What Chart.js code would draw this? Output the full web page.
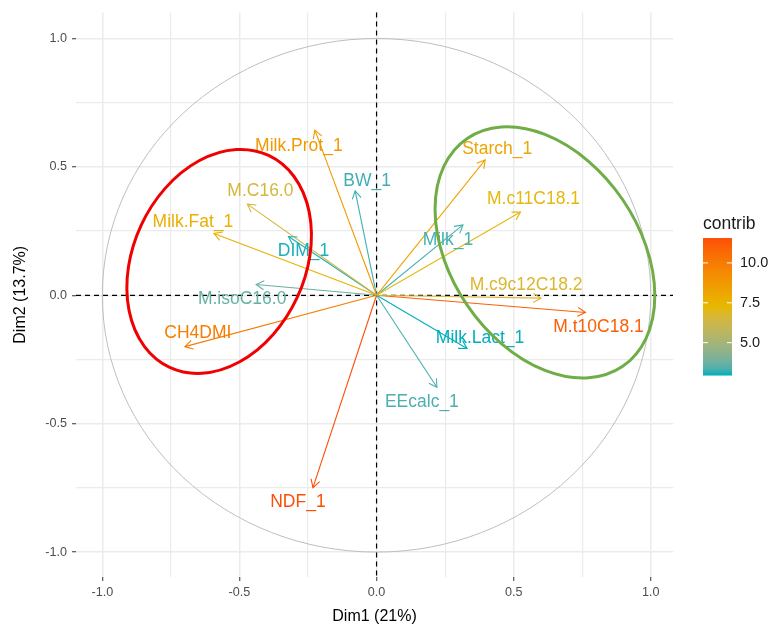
<!DOCTYPE html>
<html>
<head>
<meta charset="utf-8">
<script src="https://cdn.jsdelivr.net/npm/chart.js@4.4.1/dist/chart.umd.min.js"></script>
<style>
  html, body { margin: 0; padding: 0; background: #fff; }
  canvas { display: block; }
</style>
</head>
<body>
<canvas id="pcaChart" width="771" height="626"></canvas>
<script>
// variable coordinates on the first two PCA dimensions
const varNames = ['Milk.Prot_1', 'BW_1', 'M.C16.0', 'Milk.Fat_1', 'DIM_1', 'M.isoC16.0', 'CH4DMI', 'NDF_1',
  'EEcalc_1', 'Starch_1', 'M.c11C18.1', 'Milk_1', 'M.c9c12C18.2', 'M.t10C18.1', 'Milk.Lact_1'];
const dim1 = [-0.225, -0.078, -0.471, -0.593, -0.321, -0.439, -0.699, -0.232,
  0.220, 0.396, 0.525, 0.315, 0.600, 0.762, 0.330];
const dim2 = [0.643, 0.407, 0.355, 0.241, 0.229, 0.042, -0.200, -0.749,
  -0.358, 0.527, 0.324, 0.274, -0.011, -0.067, -0.207];
const contrib = [8.72, 3.23, 6.54, 7.70, 3.00, 3.66, 9.94, 11.56,
  3.32, 8.17, 7.16, 3.28, 6.77, 11.0, 2.94];

const axisTicks = [-1.0, -0.5, 0.0, 0.5, 1.0];
const legendTicks = [5.0, 7.5, 10.0];

// label nudges (px) from the arrow tip
const labelNudge = {
  'Milk.Prot_1': [-16, 16], 'BW_1': [12, -10], 'M.C16.0': [13, -13], 'Milk.Fat_1': [-21, -11],
  'DIM_1': [15, 15], 'M.isoC16.0': [-14, 15], 'CH4DMI': [13, -13], 'NDF_1': [-15, 15],
  'EEcalc_1': [-15, 15], 'Starch_1': [12, -11], 'M.c11C18.1': [13, -13], 'Milk_1': [-15, 15],
  'M.c9c12C18.2': [-15, -13], 'M.t10C18.1': [13, 15], 'Milk.Lact_1': [13, -10]
};

// hand drawn group ellipses: centre in data units, half axes in px, rotation in degrees
const groupRings = [
  { cx: -0.574, cy: 0.132, a: 117, b: 86, rot: -65, color: '#F00000' },
  { cx: 0.614, cy: 0.167, a: 138, b: 94, rot: 55.7, color: '#70AD47' }
];

const FONT = "'Liberation Sans', Arial, sans-serif";
const gradCols = ['#00AFBB', '#E7B800', '#FC4E07'];
const cMin = Math.min(...contrib), cMax = Math.max(...contrib);

// colour helpers, gradient interpolated in Lab like ggplot does
function hexRgb(h) {
  return [1, 3, 5].map(i => parseInt(h.slice(i, i + 2), 16));
}
function rgbToLab([r, g, b]) {
  const lin = c => { c /= 255; return c <= 0.04045 ? c / 12.92 : Math.pow((c + 0.055) / 1.055, 2.4); };
  const R = lin(r), G = lin(g), B = lin(b);
  const X = (R * 0.4124 + G * 0.3576 + B * 0.1805) / 0.95047;
  const Y = (R * 0.2126 + G * 0.7152 + B * 0.0722);
  const Z = (R * 0.0193 + G * 0.1192 + B * 0.9505) / 1.08883;
  const f = t => t > 0.008856 ? Math.cbrt(t) : 7.787 * t + 16 / 116;
  return [116 * f(Y) - 16, 500 * (f(X) - f(Y)), 200 * (f(Y) - f(Z))];
}
function labToRgb([L, a, bb]) {
  const fy = (L + 16) / 116, fx = fy + a / 500, fz = fy - bb / 200;
  const inv = t => t * t * t > 0.008856 ? t * t * t : (t - 16 / 116) / 7.787;
  const X = inv(fx) * 0.95047, Y = inv(fy), Z = inv(fz) * 1.08883;
  let R = X * 3.2406 + Y * -1.5372 + Z * -0.4986;
  let G = X * -0.9689 + Y * 1.8758 + Z * 0.0415;
  let B = X * 0.0557 + Y * -0.2040 + Z * 1.0570;
  const gam = c => { c = c <= 0.0031308 ? 12.92 * c : 1.055 * Math.pow(c, 1 / 2.4) - 0.055; return Math.round(Math.min(1, Math.max(0, c)) * 255); };
  return [gam(R), gam(G), gam(B)];
}
const gradLab = gradCols.map(h => rgbToLab(hexRgb(h)));
function contribColor(v) {
  const t = Math.min(1, Math.max(0, (v - cMin) / (cMax - cMin)));
  const seg = t < 0.5 ? 0 : 1;
  const lt = seg === 0 ? t * 2 : (t - 0.5) * 2;
  const l0 = gradLab[seg], l1 = gradLab[seg + 1];
  const c = labToRgb(l0.map((v0, k) => v0 + (l1[k] - v0) * lt));
  return `rgb(${c[0]}, ${c[1]}, ${c[2]})`;
}

const isMajor = v => axisTicks.some(t => Math.abs(t - v) < 1e-6);

const datasets = varNames.map((name, i) => ({
  label: name,
  data: [{ x: 0, y: 0 }, { x: dim1[i], y: dim2[i] }],
  borderColor: contribColor(contrib[i]),
  borderWidth: 1.1,
  showLine: true,
  pointRadius: 0,
  pointHoverRadius: 0,
  fill: false
}));

const pcaDecor = {
  id: 'pcaDecor',
  beforeDatasetsDraw(chart) {
    const { ctx, chartArea: a, scales: { x, y } } = chart;
    const ox = x.getPixelForValue(0), oy = y.getPixelForValue(0);
    const rx = x.getPixelForValue(1) - ox, ry = oy - y.getPixelForValue(1);
    ctx.save();
    ctx.beginPath();
    ctx.ellipse(ox, oy, rx, ry, 0, 0, Math.PI * 2);
    ctx.strokeStyle = '#BEBEBE';
    ctx.lineWidth = 1;
    ctx.stroke();

    ctx.setLineDash([5, 4]);
    ctx.strokeStyle = '#000';
    ctx.lineWidth = 1.2;
    ctx.beginPath();
    ctx.moveTo(a.left, oy); ctx.lineTo(a.right, oy);
    ctx.moveTo(ox, a.top); ctx.lineTo(ox, a.bottom);
    ctx.stroke();
    ctx.restore();
  },
  afterDatasetsDraw(chart) {
    const { ctx } = chart;
    ctx.save();
    chart.data.datasets.forEach((ds, i) => {
      const meta = chart.getDatasetMeta(i);
      const p0 = meta.data[0], p1 = meta.data[1];
      const ang = Math.atan2(p1.y - p0.y, p1.x - p0.x);
      const len = 9, spread = Math.PI / 6;
      ctx.strokeStyle = ds.borderColor;
      ctx.lineWidth = 1.1;
      ctx.beginPath();
      ctx.moveTo(p1.x - len * Math.cos(ang - spread), p1.y - len * Math.sin(ang - spread));
      ctx.lineTo(p1.x, p1.y);
      ctx.lineTo(p1.x - len * Math.cos(ang + spread), p1.y - len * Math.sin(ang + spread));
      ctx.stroke();

      const nudge = labelNudge[ds.label] || [0, -12];
      ctx.fillStyle = ds.borderColor;
      ctx.font = `17.5px ${FONT}`;
      ctx.textAlign = 'center';
      ctx.textBaseline = 'middle';
      ctx.fillText(ds.label, p1.x + nudge[0], p1.y + nudge[1]);
    });
    ctx.restore();
  },
  afterDraw(chart) {
    const { ctx, chartArea: a, scales: { x, y } } = chart;
    const kx = (x.getPixelForValue(1) - x.getPixelForValue(0)) / 274.25;
    const ky = (y.getPixelForValue(0) - y.getPixelForValue(1)) / 257;
    ctx.save();
    groupRings.forEach(r => {
      ctx.save();
      ctx.translate(x.getPixelForValue(r.cx), y.getPixelForValue(r.cy));
      ctx.scale(kx, ky);
      ctx.beginPath();
      ctx.ellipse(0, 0, r.a, r.b, r.rot * Math.PI / 180, 0, Math.PI * 2);
      ctx.restore();
      ctx.strokeStyle = r.color;
      ctx.lineWidth = 3;
      ctx.stroke();
    });

    // colour bar legend
    const barL = a.right + 30, barW = 29, barH = 137.5;
    const barTop = (a.top + a.bottom) / 2 - barH / 2 + 12;
    const barBot = barTop + barH;
    const grad = ctx.createLinearGradient(0, barBot, 0, barTop);
    for (let s = 0; s <= 20; s++) {
      grad.addColorStop(s / 20, contribColor(cMin + (cMax - cMin) * s / 20));
    }
    ctx.fillStyle = grad;
    ctx.fillRect(barL, barTop, barW, barH);

    ctx.fillStyle = '#1A1A1A';
    ctx.font = `17.5px ${FONT}`;
    ctx.textAlign = 'left';
    ctx.textBaseline = 'middle';
    ctx.fillText('contrib', barL, barTop - 13.5);

    ctx.font = `14.5px ${FONT}`;
    legendTicks.forEach(v => {
      const ty = barBot - (v - cMin) / (cMax - cMin) * barH;
      ctx.strokeStyle = '#FFFFFF';
      ctx.lineWidth = 1;
      ctx.beginPath();
      ctx.moveTo(barL, ty); ctx.lineTo(barL + 5, ty);
      ctx.moveTo(barL + barW - 5, ty); ctx.lineTo(barL + barW, ty);
      ctx.stroke();
      ctx.fillStyle = '#1A1A1A';
      ctx.fillText(v.toFixed(1), barL + 37, ty);
    });
    ctx.restore();
  }
};

const gridStyle = {
  color: '#EBEBEB',
  lineWidth: c => (c.tick && isMajor(c.tick.value)) ? 1.5 : 1.2,
  tickColor: c => (c.tick && isMajor(c.tick.value)) ? '#333333' : 'rgba(0,0,0,0)',
  tickLength: 4,
  tickWidth: 1,
  drawTicks: true
};

new Chart(document.getElementById('pcaChart'), {
  type: 'scatter',
  data: { datasets },
  options: {
    responsive: false,
    animation: false,
    layout: { padding: { top: 12, right: 98, left: 0, bottom: 0 } },
    plugins: {
      legend: { display: false },
      tooltip: { enabled: false }
    },
    scales: {
      x: {
        type: 'linear',
        min: -1.096,
        max: 1.081,
        afterFit: s => { s.height = 49; },
        border: { display: false },
        grid: gridStyle,
        ticks: {
          stepSize: 0.25,
          includeBounds: false,
          autoSkip: false,
          maxRotation: 0,
          padding: 4,
          color: '#4D4D4D',
          font: { family: FONT, size: 12.6 },
          callback: v => isMajor(v) ? v.toFixed(1) : ''
        },
        title: {
          display: true,
          text: 'Dim1 (21%)',
          color: '#000',
          font: { family: FONT, size: 16 },
          padding: { top: 0, bottom: 0 }
        }
      },
      y: {
        type: 'linear',
        min: -1.097,
        max: 1.101,
        afterFit: s => { s.width = 76; },
        border: { display: false },
        grid: gridStyle,
        ticks: {
          stepSize: 0.25,
          includeBounds: false,
          autoSkip: false,
          padding: 5,
          color: '#4D4D4D',
          font: { family: FONT, size: 12.6 },
          callback: v => isMajor(v) ? v.toFixed(1) : ''
        },
        title: {
          display: true,
          text: 'Dim2 (13.7%)',
          color: '#000',
          font: { family: FONT, size: 16 },
          padding: { top: 11, bottom: 0 }
        }
      }
    }
  },
  plugins: [pcaDecor]
});
</script>
</body>
</html>
